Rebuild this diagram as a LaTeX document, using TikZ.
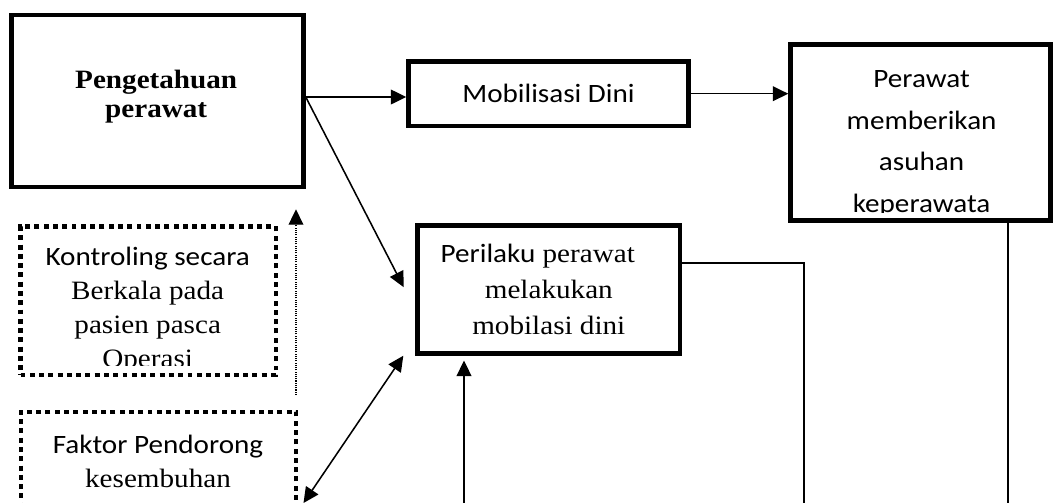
\documentclass[tikz,border=0pt]{standalone}
\usepackage{fontspec}
\setmainfont{Liberation Serif}[FakeStretch=1.1]
\newfontfamily\calfont{Carlito}[FakeStretch=1.1]
\usetikzlibrary{arrows.meta}

\tikzset{
  kotak/.style={draw, line width=3.2pt, inner sep=0pt},
  kotaktitik/.style={draw, line width=3.1pt, dash pattern=on 3.5pt off 3.1pt},
  teks/.style={align=center, inner sep=0pt, anchor=north},
  garis/.style={line width=1.1pt},
  panah/.style={garis, -{Triangle[length=11pt,width=10.5pt]}},
  panahdua/.style={garis, {Triangle[length=11pt,width=10.5pt]}-{Triangle[length=11pt,width=10.5pt]}},
  panahtitik/.style={line width=.8pt, dash pattern=on .8pt off .8pt, -{Triangle[length=11pt,width=10.5pt]}},
}

\begin{document}
\begin{tikzpicture}

\useasboundingbox (0,0) rectangle (26.325,-12.55);
\clip (0,0) rectangle (26.325,-12.55);

\node[
    kotak, minimum width=7.3cm, minimum height=4.3cm
] (pengetahuan) at (3.9375,-2.525) {};
\node[
    kotak, minimum width=7cm, minimum height=1.6175cm,
    font=\calfont\fontsize{18.85}{22}\selectfont
] (mobilisasi) at (13.7125,-2.3425) {Mobilisasi Dini};
\node[
    kotak, minimum width=6.5cm, minimum height=4.4cm
] (perawat) at (23.0125,-3.315) {};
\node[
    kotak, align=center, minimum width=6.5625cm, minimum height=3.195cm,
    font=\fontsize{18.85}{25.4}\selectfont
] (perilaku) at (13.72,-7.24) {{\calfont Perilaku} perawat\kern.55cm\\melakukan\\mobilasi dini};

% kotak titik-titik
\node[kotaktitik, minimum width=6.38cm, minimum height=3.7175cm] (kontrol) at (3.7025,-7.5175) {};
\node[kotaktitik, minimum width=6.885cm, minimum height=3.2075cm] (faktor) at (3.9625,-11.896) {};

\node[teks, font=\bfseries\fontsize{18.85}{20.8}\selectfont] (pengetahuanteks) at (3.905,-1.735) {Pengetahuan\\perawat};
\begin{scope}
  \clip (perawat.north west) rectangle ([yshift=.26cm]perawat.south east);
  \node[teks, font=\calfont\fontsize{18.85}{29.7}\selectfont] (perawatteks) at (23.04,-1.75) {Perawat\\memberikan\\asuhan\\keperawata};
\end{scope}
\begin{scope}
  \clip (kontrol.north west) rectangle ([yshift=.3cm]kontrol.south east);
  \node[teks, font=\fontsize{18.85}{24.2}\selectfont] (kontrolteks) at (3.6925,-6.16) {{\calfont Kontroling secara}\\Berkala pada\\pasien pasca\\Operasi};
\end{scope}
\node[teks, font=\fontsize{18.85}{24.2}\selectfont] (faktorteks) at (3.95,-10.87) {{\calfont Faktor Pendorong}\\kesembuhan};

\coordinate (pangkal) at ([yshift=.1cm]pengetahuan.east);
\coordinate (titikbawah) at ([shift={(-.06,.36)}]faktor.north east);
\coordinate (naik) at (11.6,-12.8);
\coordinate (ujung1) at (20.1,-12.8);
\coordinate (ujung2) at (25.2,-12.8);
\coordinate (ujung3) at (7.5875,-12.575);

\draw[panah] (pangkal) -- (pangkal -| mobilisasi.west);
\draw[panah] (mobilisasi.east) -- (mobilisasi.east -| perawat.west);
\draw[panah] (pangkal) -- ([xshift=-.29cm,yshift=.06cm]perilaku.west);
\draw[panahdua] (ujung3) -- ([xshift=-.3cm]perilaku.south west);
\draw[panahtitik, shorten >=.5cm] (titikbawah) -- (titikbawah |- pengetahuan.south);
\draw[panah, shorten >=.12cm] (naik) -- (naik |- perilaku.south);
\draw[garis] ([yshift=.66cm]perilaku.east) -| (ujung1);
\draw[garis] (ujung2 |- perawat.south) -- (ujung2);

\end{tikzpicture}
\end{document}
